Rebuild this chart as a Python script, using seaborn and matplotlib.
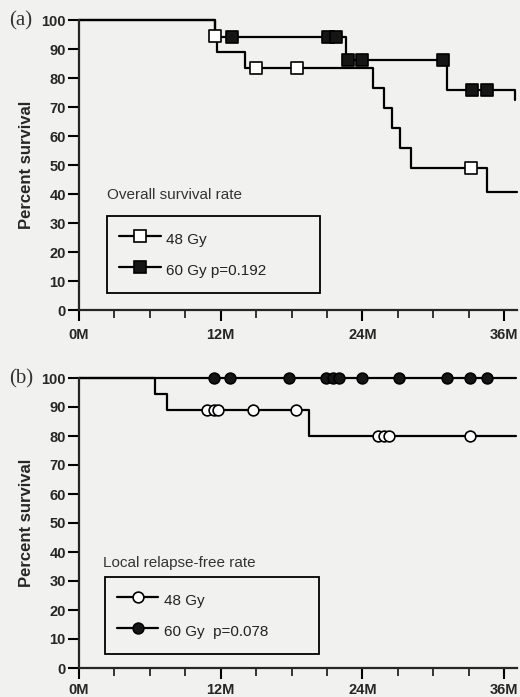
import numpy as np
import pandas as pd
import matplotlib
matplotlib.use("Agg")
import matplotlib.pyplot as plt
from matplotlib.lines import Line2D
from matplotlib.ticker import MultipleLocator
import seaborn as sns

# ---------------- data ----------------
# (a) Overall survival
os48_t = [0, 11.5, 11.7, 14.1, 24.9, 25.8, 26.5, 27.2, 28.1, 34.6, 37.1]
os48_s = [100, 94.4, 88.9, 83.3, 76.4, 69.6, 62.7, 55.8, 48.9, 40.7, 40.7]
os48_cens_t = [11.5, 15.0, 18.5, 33.2]
os48_cens_s = [94.4, 83.3, 83.3, 48.9]

os60_t = [0, 11.5, 22.6, 31.2, 36.9]
os60_s = [100, 94.1, 86.2, 75.9, 72.4]
os60_cens_t = [13.0, 21.1, 21.8, 22.8, 24.0, 30.8, 33.3, 34.6]
os60_cens_s = [94.1, 94.1, 94.1, 86.2, 86.2, 86.2, 75.9, 75.9]

# (b) Local relapse-free
lr48_t = [0, 6.45, 7.45, 19.5, 37.0]
lr48_s = [100, 94.4, 88.9, 80.0, 80.0]
lr48_cens_t = [10.8, 11.4, 11.8, 14.7, 18.4, 25.3, 25.8, 26.3, 33.1]
lr48_cens_s = [88.9, 88.9, 88.9, 88.9, 88.9, 80.0, 80.0, 80.0, 80.0]

lr60_t = [0, 37.0]
lr60_s = [100, 100]
lr60_cens_t = [11.4, 12.8, 17.8, 20.9, 21.5, 22.0, 24.0, 27.1, 31.2, 33.1, 34.6]
lr60_cens_s = [100] * 11

x_ticks = [0, 12, 24, 36]
x_labels = ["0M", "12M", "24M", "36M"]
y_ticks = [0, 10, 20, 30, 40, 50, 60, 70, 80, 90, 100]

labels_a = ["48 Gy", "60 Gy p=0.192"]
labels_b = ["48 Gy", "60 Gy  p=0.078"]
title_a = "Overall survival rate"
title_b = "Local relapse-free rate"

# ---------------- style ----------------
sns.set_style("ticks")
BG = "#f1f2ef"
plt.rcParams["font.family"] = ["Liberation Sans", "DejaVu Sans"]
plt.rcParams["axes.linewidth"] = 1.5

fig = plt.figure(figsize=(5.2, 6.97), dpi=100, facecolor=BG)

LW = 1.6
EW = 1.2


def panel(ax, t48, s48, c48t, c48s, t60, s60, c60t, c60s, marker, msize, labels, title,
          leg_box, title_pos, xpad):
    ax.set_facecolor(BG)
    sns.lineplot(x=t48, y=s48, drawstyle="steps-post", color="black", lw=LW,
                 ax=ax, clip_on=False, zorder=2, estimator=None, sort=False)
    sns.lineplot(x=t60, y=s60, drawstyle="steps-post", color="black", lw=LW,
                 ax=ax, clip_on=False, zorder=2, estimator=None, sort=False)
    sns.scatterplot(x=c48t, y=c48s, marker=marker, s=msize, facecolor="white",
                    edgecolor="black", linewidth=EW, ax=ax, clip_on=False, zorder=3)
    sns.scatterplot(x=c60t, y=c60s, marker=marker, s=msize, facecolor="#151515",
                    edgecolor="black", linewidth=EW, ax=ax, clip_on=False, zorder=3)
    ax.set_xlim(0, 37.1)
    ax.set_ylim(0, 100)
    ax.set_xticks(x_ticks)
    ax.set_xticklabels(x_labels)
    ax.xaxis.set_minor_locator(MultipleLocator(3))
    ax.set_yticks(y_ticks)
    ax.tick_params(axis="both", which="major", direction="out", length=8, width=1.5,
                   labelsize=10.5, color="black")
    ax.tick_params(axis="y", pad=1.5)
    ax.tick_params(axis="x", which="minor", direction="out", length=6, width=1.3)
    ax.tick_params(axis="x", which="major", pad=xpad)
    for lab in ax.get_xticklabels() + ax.get_yticklabels():
        lab.set_fontweight("bold")
    ax.set_xlabel("")
    ax.set_ylabel("Percent survival", fontsize=12, fontweight="bold", labelpad=5)
    sns.despine(ax=ax)
    ax.spines["left"].set_linewidth(1.6)
    ax.spines["bottom"].set_linewidth(1.6)

    handles = [
        Line2D([], [], color="black", lw=LW, marker=marker, markersize=msize ** 0.5,
               markerfacecolor="white", markeredgecolor="black", markeredgewidth=EW),
        Line2D([], [], color="black", lw=LW, marker=marker, markersize=msize ** 0.5,
               markerfacecolor="#151515", markeredgecolor="black", markeredgewidth=EW),
    ]
    leg = ax.legend(handles, labels, loc="lower left", bbox_to_anchor=leg_box,
                    mode="expand", frameon=True, fancybox=False, edgecolor="black",
                    facecolor=BG, framealpha=1, fontsize=11, handlelength=2.7,
                    handleheight=1.8, handletextpad=0.35, labelspacing=0.6,
                    borderpad=0.8, borderaxespad=0)
    leg.get_frame().set_linewidth(1.3)
    for txt in leg.get_texts():
        txt.set_color("#222222")
    ax.text(title_pos[0], title_pos[1], title, transform=ax.transAxes, fontsize=11,
            color="#333333", va="center", ha="left")


ax1 = fig.add_axes([79 / 520, 1 - 310 / 697, 438 / 520, 290 / 697])
panel(ax1, os48_t, os48_s, os48_cens_t, os48_cens_s, os60_t, os60_s, os60_cens_t,
      os60_cens_s, "s", 80, labels_a, title_a,
      (0.064, 0.059, 0.486, 0.3), (0.064, 0.397), 5)

ax2 = fig.add_axes([79 / 520, 1 - 668 / 697, 438 / 520, 290 / 697])
panel(ax2, lr48_t, lr48_s, lr48_cens_t, lr48_cens_s, lr60_t, lr60_s, lr60_cens_t,
      lr60_cens_s, "o", 60, labels_b, title_b,
      (0.059, 0.048, 0.489, 0.3), (0.055, 0.362), 3)

fig.text(9 / 520, 1 - 21 / 697, "(a)", family="Liberation Serif", fontsize=15,
         va="center", ha="left", color="#333333")
fig.text(9 / 520, 1 - 379 / 697, "(b)", family="Liberation Serif", fontsize=15,
         va="center", ha="left", color="#333333")

fig.savefig("out.png", dpi=100, facecolor=BG)
